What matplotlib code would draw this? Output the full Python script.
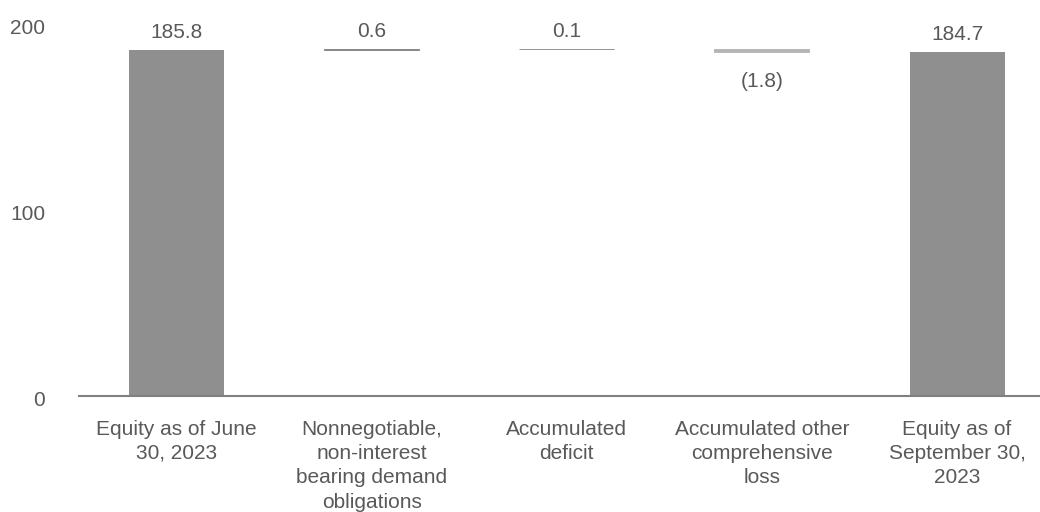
import matplotlib.pyplot as plt
import matplotlib.transforms as mtransforms
import numpy as np

plt.rcParams['font.family'] = ['Liberation Sans', 'DejaVu Sans']

# equity bridge, in millions
categories = [
    "Equity as of June\n30, 2023",
    "Nonnegotiable,\nnon-interest\nbearing demand\nobligations",
    "Accumulated\ndeficit",
    "Accumulated other\ncomprehensive\nloss",
    "Equity as of\nSeptember 30,\n2023",
]
start_total = 185.8
changes = [0.6, 0.1, -1.8]
end_total = 184.7
value_labels = ["185.8", "0.6", "0.1", "(1.8)", "184.7"]

TEXT = "#595959"
TOTAL = "#8f8f8f"
UP = "#7f7f7f"
DOWN = "#b4b4b4"
FS = 15

fig = plt.figure(figsize=(10.4, 5.12), dpi=100)
ax = fig.add_axes([0.076, 0.2266, 0.924, 0.7266])

x = np.arange(len(categories))
w = 0.487

# running totals for the floating steps
bottoms = []
level = start_total
for c in changes:
    bottoms.append(level if c >= 0 else level + c)
    level += c

ax.bar(x[0], start_total, width=w, color=TOTAL)
ax.bar(x[-1], end_total, width=w, color=TOTAL)
for i, c in enumerate(changes):
    col = UP if c >= 0 else DOWN
    ax.bar(x[i + 1], abs(c), bottom=bottoms[i], width=w, color=col,
           edgecolor=col, linewidth=0.6)

# value labels
ax.text(x[0], start_total + 9.5, value_labels[0], ha="center", va="center",
        fontsize=FS, color=TEXT)
ax.text(x[-1], end_total + 9.5, value_labels[-1], ha="center", va="center",
        fontsize=FS, color=TEXT)
for i, c in enumerate(changes):
    if c >= 0:
        y = bottoms[i] + c + 9.5
    else:
        y = bottoms[i] - 15.5
    ax.text(x[i + 1], y, value_labels[i + 1], ha="center", va="center",
            fontsize=FS, color=TEXT)

ax.set_xlim(-0.5, 4.425)
ax.set_ylim(0, 200)
ax.set_yticks([0, 100, 200])
ax.set_xticks(x)
ax.set_xticklabels(categories, fontsize=FS, color=TEXT, linespacing=1.36)

ax.tick_params(axis="x", length=0, pad=17)
ax.tick_params(axis="y", length=0, pad=24.5, labelsize=FS, labelcolor=TEXT)
for s in ["top", "right", "left"]:
    ax.spines[s].set_visible(False)
ax.spines["bottom"].set_color("#808080")
ax.spines["bottom"].set_linewidth(1.5)

# y labels sit a little below their gridline value
shift = mtransforms.ScaledTranslation(0, -2.5 / 100, fig.dpi_scale_trans)
for tick in ax.yaxis.get_major_ticks():
    tick.label1.set_transform(tick.label1.get_transform() + shift)

fig.savefig("out.png", dpi=100)
